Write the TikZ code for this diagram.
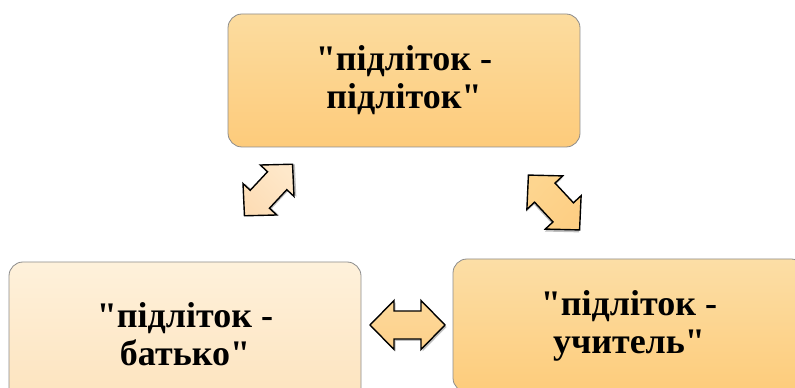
\documentclass[tikz,border=0pt]{standalone}
\usepackage{fontspec}
\setmainfont{Liberation Serif}
\font\qfont="Liberation Serif/B" at 36pt
\newcommand{\qq}{{\qfont\char34}}
\begin{document}
\begin{tikzpicture}[x=1pt,y=1pt,
  box/.style={draw=black!45, line width=0.8pt, rounded corners=14pt, align=center,
    font=\bfseries\fontsize{36}{38}\selectfont, inner sep=0pt, minimum width=352pt},
  dblarrow/.style={draw=black, line width=1.4pt, line join=miter},
]
\useasboundingbox (0,0) rectangle (795,388);
\definecolor{topA}{HTML}{FCDC9F}\definecolor{topB}{HTML}{FDCB7B}
\definecolor{blA}{HTML}{FEF1DB}\definecolor{blB}{HTML}{FDE3BD}
\definecolor{brA}{HTML}{FCDEA6}\definecolor{brB}{HTML}{FDCC7B}
\definecolor{arA}{HTML}{FEE8CA}\definecolor{arB}{HTML}{FDDDB6}
\definecolor{arC}{HTML}{FDD58F}\definecolor{arD}{HTML}{FDD99A}
% boxes
\node[box, minimum height=133pt, top color=topA, bottom color=topB] (pp) at (404,307.5) {\qq підліток -\\підліток\qq};
\node[box, minimum height=144pt, top color=blA, bottom color=blB] (pb) at (185,54) {\qq підліток -\\батько\qq};
\node[box, minimum height=133pt, top color=brA, bottom color=brB] (pu) at (629,62.5) {\qq підліток -\\учитель\qq};
% connectors (double block arrows)
\def\arrowshape{(-37.5,0) -- (-13.5,24.5) -- (-13.5,14) -- (13.5,14) -- (13.5,24.5) -- (37.5,0) -- (13.5,-24.5) -- (13.5,-14) -- (-13.5,-14) -- (-13.5,-24.5) -- cycle}
\coordinate (a1) at (268.5,198);
\coordinate (a2) at (407.5,63);
\coordinate (a3) at (554,185.5);
\begin{scope}[shift={(a1)}, rotate=47, scale=0.94]
  \fill[black!25, shift={(1.5,-2)}] \arrowshape;
  \draw[dblarrow, top color=arA, bottom color=arB, shading angle=-47] \arrowshape;
\end{scope}
\begin{scope}[shift={(a2)}]
  \fill[black!25, shift={(1.5,-2)}] \arrowshape;
  \draw[dblarrow, top color=arD, bottom color=arD!90!orange] \arrowshape;
\end{scope}
\begin{scope}[shift={(a3)}, rotate=-47]
  \fill[black!25, shift={(1.5,-2)}] \arrowshape;
  \draw[dblarrow, top color=arC, bottom color=arC!92!orange, shading angle=47] \arrowshape;
\end{scope}
\end{tikzpicture}
\end{document}
